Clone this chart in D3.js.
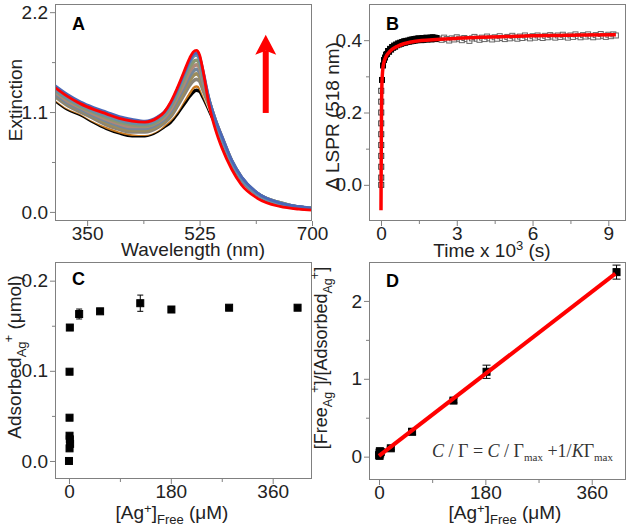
<!DOCTYPE html>
<html><head><meta charset="utf-8">
<script src="https://cdn.jsdelivr.net/npm/d3@7"></script>
<style>
body{margin:0;background:#fff;}
svg text{font-family:"Liberation Sans",Arial,sans-serif;}
</style></head><body>
<svg id="c" width="630" height="527"></svg>
<script>
// ---------- Panel A: extinction spectra ----------
const wavelength = [300,320,340,360,380,400,420,440,460,470,480,490,500,510,515,520,525,530,540,550,560,575,590,615,650,680,700];
const extBlack  = [1.23,1.13,1.07,0.99,0.92,0.87,0.84,0.84,0.89,0.94,0.99,1.08,1.18,1.28,1.32,1.34,1.33,1.27,1.12,0.96,0.78,0.53,0.36,0.19,0.08,0.04,0.03];
const extOrange = [1.24,1.14,1.08,1.00,0.93,0.88,0.85,0.85,0.90,0.95,1.01,1.10,1.21,1.31,1.36,1.38,1.36,1.29,1.13,0.97,0.79,0.54,0.36,0.19,0.09,0.05,0.04];
const extWhite  = [1.25,1.15,1.09,1.01,0.95,0.90,0.87,0.86,0.91,0.97,1.03,1.12,1.24,1.36,1.41,1.43,1.40,1.32,1.14,0.97,0.79,0.54,0.37,0.19,0.09,0.05,0.04];
const extGrey   = [1.27,1.17,1.10,1.03,0.96,0.91,0.88,0.88,0.93,0.98,1.05,1.16,1.28,1.40,1.44,1.46,1.44,1.35,1.17,0.98,0.80,0.55,0.37,0.20,0.09,0.05,0.04];
const extOlive  = [1.29,1.19,1.12,1.05,0.98,0.93,0.90,0.90,0.95,1.00,1.08,1.19,1.32,1.45,1.50,1.52,1.49,1.39,1.19,0.99,0.81,0.55,0.37,0.20,0.09,0.05,0.04];
const extSlate  = [1.30,1.20,1.13,1.06,1.00,0.95,0.92,0.92,0.97,1.02,1.10,1.23,1.36,1.50,1.55,1.57,1.54,1.43,1.21,1.00,0.81,0.56,0.38,0.20,0.10,0.05,0.04];
const extRose   = [1.32,1.22,1.15,1.08,1.02,0.97,0.94,0.94,0.99,1.04,1.13,1.26,1.40,1.55,1.60,1.62,1.59,1.46,1.22,1.00,0.82,0.56,0.38,0.20,0.10,0.05,0.04];
const extSage   = [1.34,1.24,1.16,1.10,1.04,0.99,0.96,0.95,1.00,1.06,1.16,1.29,1.45,1.60,1.65,1.67,1.63,1.50,1.22,0.99,0.81,0.56,0.38,0.20,0.10,0.05,0.04];
const extTeal   = [1.35,1.25,1.18,1.11,1.06,1.01,0.98,0.97,1.02,1.08,1.18,1.33,1.49,1.65,1.71,1.73,1.68,1.53,1.21,0.97,0.79,0.54,0.36,0.19,0.09,0.05,0.04];
const extBlue   = [1.39,1.29,1.21,1.15,1.10,1.05,1.02,1.00,1.05,1.10,1.20,1.34,1.51,1.67,1.73,1.75,1.71,1.57,1.24,1.01,0.83,0.57,0.39,0.21,0.10,0.06,0.04];
const extRed    = [1.37,1.27,1.19,1.13,1.08,1.03,1.00,0.99,1.04,1.10,1.21,1.36,1.53,1.70,1.76,1.78,1.73,1.57,1.17,0.90,0.70,0.47,0.30,0.15,0.06,0.03,0.02];
const arrowWl = 628, arrowFrom = 1.09, arrowTo = 1.95;

// ---------- Panel B: kinetics ----------
const kinTimeStart  = [0.01,0.01,0.01,0.01,0.01,0.01,0.01,0.01,0.01,0.01];
const kinDeltaStart = [0.0,0.02,0.05,0.08,0.11,0.14,0.17,0.20,0.23,0.26];
const kinTimeDense  = [0.04,0.08,0.12,0.16,0.20,0.24,0.28,0.32,0.36,0.40,0.44,0.48,0.52,0.56,0.60,0.64,0.68,0.72,0.76,0.80,0.84,0.88,0.92,0.96,1.00,1.04,1.08,1.12,1.16,1.20,1.24,1.28,1.32,1.36,1.40,1.44,1.48,1.52,1.56,1.60,1.64,1.68,1.72,1.76,1.80,1.84,1.88,1.92,1.96,2.00,2.04,2.08,2.12,2.16,2.20];
const kinDeltaDense = [0.29,0.33,0.345,0.352,0.36,0.362,0.37,0.368,0.376,0.374,0.381,0.379,0.385,0.382,0.388,0.386,0.391,0.388,0.393,0.390,0.395,0.392,0.397,0.393,0.398,0.395,0.399,0.396,0.401,0.397,0.402,0.398,0.403,0.399,0.404,0.400,0.405,0.401,0.404,0.400,0.406,0.401,0.405,0.402,0.407,0.402,0.406,0.403,0.407,0.402,0.408,0.404,0.407,0.403,0.406];
const kinTimeSparse = [2.3,2.4,2.5,2.6,2.7,2.8,2.9,3.0,3.1,3.2,3.3,3.4,3.5,3.6,3.7,3.8,3.9,4.0,4.1,4.2,4.3,4.4,4.5,4.6,4.7,4.8,4.9,5.0,5.1,5.2,5.3,5.4,5.5,5.6,5.7,5.8,5.9,6.0,6.1,6.2,6.3,6.4,6.5,6.6,6.7,6.8,6.9,7.0,7.1,7.2,7.3,7.4,7.5,7.6,7.7,7.8,7.9,8.0,8.1,8.2,8.3,8.4,8.5,8.6,8.7,8.8,8.9,9.0,9.1,9.2,9.3];
const kinDeltaSparse = [0.404,0.401,0.407,0.403,0.399,0.405,0.402,0.408,0.404,0.400,
  0.406,0.403,0.398,0.405,0.409,0.404,0.401,0.407,0.403,0.410,
  0.405,0.402,0.408,0.404,0.411,0.406,0.403,0.409,0.405,0.412,
  0.407,0.404,0.410,0.406,0.413,0.408,0.405,0.411,0.407,0.413,
  0.409,0.406,0.412,0.408,0.414,0.410,0.407,0.413,0.409,0.415,
  0.410,0.407,0.413,0.409,0.416,0.411,0.408,0.414,0.410,0.416,
  0.411,0.408,0.414,0.410,0.417,0.412,0.409,0.415,0.411,0.416,0.413];
const fitTime  = [0,0.01,0.02,0.03,0.05,0.08,0.12,0.2,0.3,0.45,0.65,0.9,1.2,1.6,2.2,3,4,5,6,7,8,9.3];
const fitDelta = [-0.07,0.10,0.20,0.26,0.30,0.325,0.34,0.355,0.365,0.375,0.383,0.39,0.395,0.399,0.402,0.405,0.408,0.410,0.412,0.413,0.414,0.415];

// ---------- Panel C: isotherm ----------
const isoFree     = [0,1,2,1.5,1,1,1,1.5,18,55,126,181,283,404];
const isoAdsorbed = [0,0.014,0.019,0.024,0.028,0.048,0.099,0.148,0.163,0.166,0.175,0.168,0.170,0.170];
const isoErr      = [0,0,0,0,0,0,0,0,0.0055,0.002,0.009,0.003,0.002,0.002];

// ---------- Panel D: Langmuir linearisation ----------
const linFree  = [0.3,1,1.5,2,3,1,20,56,126,182,402];
const linRatio = [0.02,0.05,0.07,0.04,0.06,0.01,0.107,0.32,0.72,1.09,2.37];
const linErr   = [0,0,0,0,0,0,0.02,0.04,0.03,0.085,0.09];
const linFitFree  = [0,400];
const linFitRatio = [0.01,2.35];

const svg = d3.select('#c');
const FS = 19, GREY = '#808080', TXT = '#222';

function panel(o){
  const g = svg.append('g');
  const x = d3.scaleLinear().domain(o.xd).range([o.x0,o.x1]);
  const y = d3.scaleLinear().domain(o.yd).range([o.y1,o.y0]);
  const id = 'clip'+o.name;
  svg.append('clipPath').attr('id',id).append('rect')
    .attr('x',o.x0).attr('y',o.y0).attr('width',o.x1-o.x0).attr('height',o.y1-o.y0);
  const styleAx = s=>{s.select('.domain').remove(); s.selectAll('line').attr('stroke',GREY);
     s.selectAll('text').attr('font-size',FS).attr('fill',TXT).attr('font-family','"Liberation Sans",Arial,sans-serif');};
  g.append('g').attr('transform',`translate(0,${o.y1})`)
    .call(d3.axisBottom(x).tickValues(o.xt).tickSize(5).tickSizeOuter(0).tickPadding(1).tickFormat(o.xf)).call(styleAx);
  g.append('g').attr('transform',`translate(0,${o.y1})`)
    .call(d3.axisBottom(x).tickValues(o.xm).tickSize(3).tickSizeOuter(0).tickFormat('')).call(styleAx);
  g.append('g').attr('transform',`translate(${o.x0},0)`)
    .call(d3.axisLeft(y).tickValues(o.yt).tickSize(5).tickSizeOuter(0).tickPadding(2).tickFormat(o.yf)).call(styleAx);
  g.append('g').attr('transform',`translate(${o.x0},0)`)
    .call(d3.axisLeft(y).tickValues(o.ym).tickSize(3).tickSizeOuter(0).tickFormat('')).call(styleAx);
  const plot = g.append('g').attr('clip-path',`url(#${id})`);
  const frame = ()=>g.append('rect').attr('x',o.x0+0.5).attr('y',o.y0+0.5)
    .attr('width',o.x1-o.x0-1).attr('height',o.y1-o.y0-1).attr('fill','none').attr('stroke',GREY).attr('stroke-width',1);
  g.append('text').attr('x',o.lx).attr('y',o.ly).attr('font-size',18).attr('font-weight','bold').attr('fill','#000').text(o.name);
  return {g,x,y,plot,frame};
}

// ---- A ----
const A = panel({name:'A',x0:55,x1:312,y0:4,y1:221,xd:[300,700],yd:[-0.1,2.29],
  xt:[350,525,700],xm:[437.5,612.5],yt:[0,1.1,2.2],ym:[0.55,1.65],xf:d3.format('d'),yf:d3.format('.1f'),lx:72,ly:30});
const spectra = [
  [extBlack,'#000000',3.5],[extOrange,'#c8781e',2.5],[extWhite,'#ffffff',2.5],[extGrey,'#8a8478',3.6],
  [extOlive,'#9c8c5c',3.6],[extSlate,'#75879a',3.6],[extRose,'#ad8878',3.6],[extSage,'#8a9870',3.6],
  [extTeal,'#6a8ea6',3.6],[extBlue,'#4a68b8',2.8],[extRed,'#ff0000',2.8]];
const lineA = d3.line().curve(d3.curveMonotoneX);
spectra.forEach(([vals,col,w])=>{
  A.plot.append('path').attr('d',lineA(wavelength.map((l,i)=>[A.x(l),A.y(vals[i])])))
    .attr('fill','none').attr('stroke',col).attr('stroke-width',w);
});
// arrow
{
  const ax = A.x(arrowWl), yb = A.y(arrowFrom), yt = A.y(arrowTo);
  A.g.append('line').attr('x1',ax).attr('x2',ax).attr('y1',yb).attr('y2',yt+16).attr('stroke','#ff0000').attr('stroke-width',6);
  A.g.append('path').attr('d',`M${ax},${yt} L${ax+10.5},${yt+20} L${ax},${yt+16} L${ax-10.5},${yt+20} Z`).attr('fill','#ff0000');
}
A.frame();
A.g.append('text').attr('transform','translate(22,100) rotate(-90)').attr('text-anchor','middle')
  .attr('font-size',FS).attr('fill',TXT).text('Extinction');
A.g.append('text').attr('x',193).attr('y',256).attr('text-anchor','middle')
  .attr('font-size',FS).attr('fill',TXT).text('Wavelength (nm)');

// ---- B ----
const B = panel({name:'B',x0:369,x1:626,y0:4,y1:221,xd:[-0.475,9.7],yd:[-0.1,0.5],
  xt:[0,3,6,9],xm:[1.5,4.5,7.5],yt:[0,0.2,0.4],ym:[0.1,0.3],xf:d3.format('d'),yf:d3.format('.1f'),lx:386,ly:30});
const sq = (sel, xs, ys, sc, size, fill, stroke)=>{
  sel.selectAll(null).data(xs.map((v,i)=>[v,ys[i]])).enter().append('rect')
    .attr('x',d=>sc.x(d[0])-size/2).attr('y',d=>sc.y(d[1])-size/2).attr('width',size).attr('height',size)
    .attr('fill',fill).attr('stroke',stroke).attr('stroke-width',1);
};
sq(B.plot, kinTimeSparse, kinDeltaSparse, B, 5, '#fff', '#666');
sq(B.plot, kinTimeStart, kinDeltaStart, B, 5, 'none', '#333');
sq(B.plot, kinTimeDense, kinDeltaDense, B, 5, '#000', '#000');
B.plot.append('path').attr('d',d3.line().curve(d3.curveMonotoneX)(fitTime.map((t,i)=>[B.x(t),B.y(fitDelta[i])])))
  .attr('fill','none').attr('stroke','#ff0000').attr('stroke-width',3.5);
B.frame();
B.g.append('text').attr('transform','translate(339,116) rotate(-90)').attr('text-anchor','middle')
  .attr('font-size',FS).attr('fill',TXT).text('Δ LSPR (518 nm)');
{
  const t = B.g.append('text').attr('x',492).attr('y',257).attr('text-anchor','middle').attr('font-size',FS).attr('fill',TXT);
  t.append('tspan').text('Time x 10');
  t.append('tspan').attr('font-size',13).attr('dy',-7).text('3');
  t.append('tspan').attr('dy',7).text(' (s)');
}

// ---- C ----
const C = panel({name:'C',x0:55,x1:312,y0:262,y1:479,xd:[-24.7,429.5],yd:[-0.02,0.2207],
  xt:[0,180,360],xm:[90,270],yt:[0,0.1,0.2],ym:[0.05,0.15],xf:d3.format('d'),yf:d3.format('.1f'),lx:72,ly:285});
function errBars(P, xs, ys, es, cap){
  xs.forEach((v,i)=>{ if(!es[i]) return;
    const cx=P.x(v), ya=P.y(ys[i]+es[i]), yb=P.y(ys[i]-es[i]);
    P.plot.append('line').attr('x1',cx).attr('x2',cx).attr('y1',ya).attr('y2',yb).attr('stroke','#000').attr('stroke-width',1);
    [ya,yb].forEach(yy=>P.plot.append('line').attr('x1',cx-cap).attr('x2',cx+cap).attr('y1',yy).attr('y2',yy).attr('stroke','#000').attr('stroke-width',1));
  });
}
errBars(C, isoFree, isoAdsorbed, isoErr, 3);
sq(C.plot, isoFree, isoAdsorbed, C, 7, '#000', '#000');
C.frame();
{
  const t = C.g.append('text').attr('transform','translate(21,357) rotate(-90)').attr('text-anchor','middle').attr('font-size',FS).attr('fill',TXT);
  t.append('tspan').text('Adsorbed');
  t.append('tspan').attr('font-size',13).attr('dy',5).text('Ag');
  t.append('tspan').attr('font-size',13).attr('dy',-13).attr('dx',-1).text('+');
  t.append('tspan').attr('dy',8).text(' (μmol)');
  const u = C.g.append('text').attr('x',172).attr('y',519).attr('text-anchor','middle').attr('font-size',FS).attr('fill',TXT);
  u.append('tspan').text('[Ag');
  u.append('tspan').attr('font-size',13).attr('dy',-6).text('+');
  u.append('tspan').attr('dy',6).text(']');
  u.append('tspan').attr('font-size',13).attr('dy',5).text('Free');
  u.append('tspan').attr('dy',-5).text(' (μM)');
}

// ---- D ----
const D = panel({name:'D',x0:369,x1:626,y0:262,y1:480,xd:[-16.9,418],yd:[-0.3,2.5],
  xt:[0,180,360],xm:[90,270],yt:[0,1,2],ym:[0.5,1.5],xf:d3.format('d'),yf:d3.format('d'),lx:386,ly:287});
errBars(D, linFree, linRatio, linErr, 4);
sq(D.plot, linFree, linRatio, D, 7, '#000', '#000');
D.plot.append('path').attr('d',d3.line()(linFitFree.map((v,i)=>[D.x(v),D.y(linFitRatio[i])])))
  .attr('fill','none').attr('stroke','#ff0000').attr('stroke-width',4);
D.frame();
{
  const t = D.g.append('text').attr('transform','translate(327,358) rotate(-90)').attr('text-anchor','middle').attr('font-size',18).attr('fill',TXT);
  t.append('tspan').text('[Free');
  t.append('tspan').attr('font-size',12.5).attr('dy',5).text('Ag');
  t.append('tspan').attr('font-size',12.5).attr('dy',-13).attr('dx',-1).text('+');
  t.append('tspan').attr('dy',8).text(']/[Adsorbed');
  t.append('tspan').attr('font-size',12.5).attr('dy',5).text('Ag');
  t.append('tspan').attr('font-size',12.5).attr('dy',-13).attr('dx',-1).text('+');
  t.append('tspan').attr('dy',8).text(']');
  const u = D.g.append('text').attr('x',505).attr('y',519).attr('text-anchor','middle').attr('font-size',FS).attr('fill',TXT);
  u.append('tspan').text('[Ag');
  u.append('tspan').attr('font-size',13).attr('dy',-6).text('+');
  u.append('tspan').attr('dy',6).text(']');
  u.append('tspan').attr('font-size',13).attr('dy',5).text('Free');
  u.append('tspan').attr('dy',-5).text(' (μM)');
  const e = D.g.append('text').attr('x',432).attr('y',457).attr('font-size',18).attr('fill','#333')
    .style('font-family','"Liberation Serif","Times New Roman",serif');
  e.append('tspan').attr('font-style','italic').text('C');
  e.append('tspan').text(' / Γ = ');
  e.append('tspan').attr('font-style','italic').text('C');
  e.append('tspan').text(' / Γ');
  e.append('tspan').attr('font-size',11).attr('dy',4).text('max');
  e.append('tspan').attr('dy',-4).text(' +1/');
  e.append('tspan').attr('font-style','italic').text('K');
  e.append('tspan').text('Γ');
  e.append('tspan').attr('font-size',11).attr('dy',4).text('max');
}
</script>
</body></html>
